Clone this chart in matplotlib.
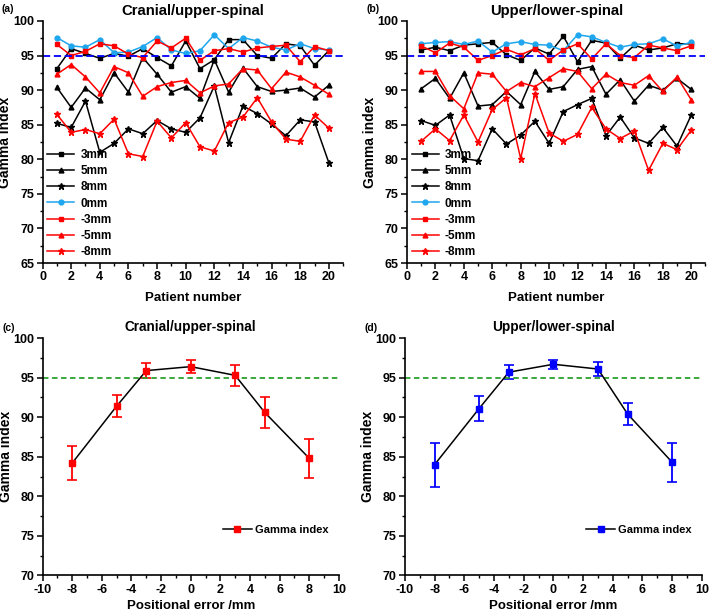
import matplotlib.pyplot as plt
import numpy as np
from matplotlib.lines import Line2D
from matplotlib.ticker import MultipleLocator

plt.rcParams["font.family"] = ["Liberation Sans", "DejaVu Sans"]
plt.rcParams["font.weight"] = "bold"
plt.rcParams["axes.unicode_minus"] = False

patients = np.arange(1, 21)

# (a) Cranial/upper-spinal
a_3mm = [93.1, 96.0, 95.3, 94.6, 95.3, 94.9, 96.0, 94.7, 93.5, 97.1,
         93.1, 94.4, 97.3, 97.3, 95.0, 94.6, 96.7, 96.4, 93.6, 95.7]
a_5mm = [90.4, 87.5, 90.3, 88.6, 92.5, 89.7, 94.7, 92.3, 89.7, 90.5,
         88.8, 94.4, 89.7, 93.2, 90.5, 89.8, 90.0, 90.3, 89.0, 90.7]
a_8mm = [85.2, 84.6, 88.4, 81.0, 82.3, 84.4, 83.7, 85.6, 84.4, 83.9,
         86.0, 90.6, 82.4, 87.7, 86.6, 85.1, 83.4, 85.7, 85.4, 79.5]
a_0mm = [97.6, 96.4, 96.2, 97.3, 95.4, 95.5, 96.3, 97.6, 95.8, 95.3,
         95.7, 98.0, 96.0, 97.6, 97.1, 96.2, 95.8, 96.7, 96.0, 95.8]
a_m3mm = [96.6, 95.0, 95.6, 96.7, 96.4, 95.2, 94.7, 97.1, 96.1, 97.5,
          94.3, 95.7, 96.0, 95.5, 96.1, 96.3, 96.5, 94.1, 96.3, 95.7]
a_m5mm = [92.3, 93.7, 91.9, 89.6, 93.4, 92.5, 89.1, 90.5, 91.1, 91.4,
          89.6, 90.6, 90.9, 93.1, 92.9, 90.2, 92.6, 91.9, 90.7, 89.4]
a_m8mm = [86.5, 83.9, 84.3, 83.7, 85.8, 80.8, 80.4, 85.5, 83.1, 85.3,
          81.8, 81.2, 85.3, 86.1, 88.9, 85.4, 82.9, 82.6, 86.4, 84.5]

# (b) Upper/lower-spinal
b_3mm = [95.8, 96.2, 95.7, 96.5, 96.7, 96.9, 95.1, 94.3, 96.1, 95.2,
         97.8, 94.1, 97.2, 96.8, 94.6, 96.5, 95.8, 96.1, 96.7, 96.7]
b_5mm = [90.2, 91.7, 88.8, 92.5, 87.7, 87.9, 89.8, 87.9, 92.7, 90.1,
         90.5, 93.0, 93.4, 89.4, 91.5, 88.4, 90.7, 90.0, 91.7, 90.1]
b_8mm = [85.6, 84.9, 86.4, 80.1, 79.8, 84.4, 82.2, 83.5, 85.5, 82.3,
         86.9, 87.9, 88.8, 83.4, 86.1, 83.1, 82.3, 84.6, 81.9, 86.4]
b_0mm = [96.7, 96.9, 97.0, 96.6, 97.1, 95.5, 96.7, 97.0, 96.6, 96.5,
         95.7, 98.0, 97.7, 96.9, 96.2, 96.6, 96.7, 97.4, 96.4, 96.9]
b_m3mm = [96.4, 95.4, 96.8, 96.2, 94.3, 95.0, 95.9, 95.1, 96.0, 94.3,
          95.8, 96.7, 94.5, 96.7, 95.0, 94.7, 96.5, 96.1, 95.7, 96.4]
b_m5mm = [92.7, 92.7, 89.2, 87.3, 92.5, 92.3, 89.8, 91.1, 90.5, 91.8,
          93.1, 92.7, 90.2, 92.3, 91.1, 90.7, 92.1, 89.8, 91.9, 88.6]
b_m8mm = [82.6, 84.4, 82.7, 86.4, 82.5, 87.2, 88.9, 80.1, 89.5, 83.8,
          82.6, 83.6, 87.5, 84.4, 83.0, 84.1, 78.4, 82.3, 81.4, 84.2]

# (c), (d) mean gamma index vs positional error
pos_error = [-8, -5, -3, 0, 3, 5, 8]
c_mean = [84.2, 91.4, 95.9, 96.4, 95.3, 90.6, 84.8]
c_err = [2.2, 1.4, 0.9, 0.85, 1.35, 1.9, 2.5]
d_mean = [84.0, 91.1, 95.7, 96.7, 96.1, 90.4, 84.3]
d_err = [2.8, 1.6, 0.85, 0.55, 0.9, 1.4, 2.45]

series_labels = ["3mm", "5mm", "8mm", "0mm", "-3mm", "-5mm", "-8mm"]
series_colors = ["black", "black", "black", "#1EA6EE", "red", "red", "red"]
series_markers = ["s", "^", "*", "o", "s", "^", "*"]


def style_axes(ax):
    for side in ["top", "right"]:
        ax.spines[side].set_visible(False)
    for side in ["left", "bottom"]:
        ax.spines[side].set_linewidth(1.2)
    ax.tick_params(which="major", direction="out", length=4, width=1.1, labelsize=9, pad=2)
    ax.tick_params(which="minor", direction="out", length=2.5, width=1.0)
    for lbl in ax.get_xticklabels() + ax.get_yticklabels():
        lbl.set_fontweight("bold")


def draw_patient_panel(ax, data, title, tag):
    for values, label, color, marker in zip(data, series_labels, series_colors, series_markers):
        ms = 4.5 if marker == "*" else 3.5
        ax.plot(patients, values, color=color, marker=marker, markersize=ms,
                linewidth=1.1, label=label)
    ax.axhline(95, color="blue", linestyle=(0, (4, 2)), linewidth=1.3)
    ax.set_xlim(0, 21)
    ax.set_ylim(65, 100)
    ax.xaxis.set_major_locator(MultipleLocator(2))
    ax.xaxis.set_minor_locator(MultipleLocator(1))
    ax.yaxis.set_major_locator(MultipleLocator(5))
    ax.yaxis.set_minor_locator(MultipleLocator(2.5))
    ax.set_xlabel("Patient number", fontsize=9.5, fontweight="bold", labelpad=6)
    ax.set_ylabel("Gamma index", fontsize=10, fontweight="bold")
    ax.yaxis.set_label_coords(-0.1, 0.5)
    ax.set_title(title, fontsize=10.7, fontweight="bold", pad=4)
    ax.text(-0.135, 1.035, tag, transform=ax.transAxes, fontsize=7.5, fontweight="bold")
    ax.legend(loc="lower left", frameon=False, handlelength=2.3, handletextpad=0.5,
              labelspacing=0.36, borderaxespad=0.0, bbox_to_anchor=(0.0, 0.0),
              prop={"weight": "bold", "size": 8.5})
    style_axes(ax)


def draw_error_panel(ax, mean, err, color, title, tag):
    ax.errorbar(pos_error, mean, yerr=err, color="black", linewidth=1.1,
                marker="s", markersize=3.8, markerfacecolor=color, markeredgecolor=color,
                ecolor=color, elinewidth=1.3, capsize=3.5, capthick=1.2)
    ax.axhline(95, color="#2CA02C", linestyle=(0, (3, 2)), linewidth=1.3)
    ax.set_xlim(-10, 10)
    ax.set_ylim(70, 100)
    ax.xaxis.set_major_locator(MultipleLocator(2))
    ax.xaxis.set_minor_locator(MultipleLocator(1))
    ax.yaxis.set_major_locator(MultipleLocator(5))
    ax.yaxis.set_minor_locator(MultipleLocator(2.5))
    ax.set_xlabel("Positional error /mm", fontsize=9.5, fontweight="bold", labelpad=3)
    ax.set_ylabel("Gamma index", fontsize=10, fontweight="bold")
    ax.yaxis.set_label_coords(-0.1, 0.5)
    ax.set_title(title, fontsize=9.8, fontweight="bold", pad=5)
    ax.text(-0.135, 1.03, tag, transform=ax.transAxes, fontsize=7.5, fontweight="bold")
    proxy = Line2D([], [], color="black", linewidth=1.1, marker="s", markersize=3.8,
                   markerfacecolor=color, markeredgecolor=color)
    ax.legend([proxy], ["Gamma index"], loc="lower right", bbox_to_anchor=(1.0, 0.13),
              frameon=False, handlelength=2.6, handletextpad=0.3,
              prop={"weight": "bold", "size": 8})
    style_axes(ax)


fig = plt.figure(figsize=(7.09, 6.16), dpi=100)
ax_a = fig.add_axes([0.060, 0.573, 0.424, 0.393])
ax_b = fig.add_axes([0.574, 0.573, 0.421, 0.393])
ax_c = fig.add_axes([0.060, 0.066, 0.418, 0.385])
ax_d = fig.add_axes([0.571, 0.066, 0.419, 0.385])

draw_patient_panel(ax_a, [a_3mm, a_5mm, a_8mm, a_0mm, a_m3mm, a_m5mm, a_m8mm],
                   "Cranial/upper-spinal", "(a)")
draw_patient_panel(ax_b, [b_3mm, b_5mm, b_8mm, b_0mm, b_m3mm, b_m5mm, b_m8mm],
                   "Upper/lower-spinal", "(b)")
draw_error_panel(ax_c, c_mean, c_err, "red", "Cranial/upper-spinal", "(c)")
draw_error_panel(ax_d, d_mean, d_err, "blue", "Upper/lower-spinal", "(d)")

fig.savefig("out.png", dpi=100)
